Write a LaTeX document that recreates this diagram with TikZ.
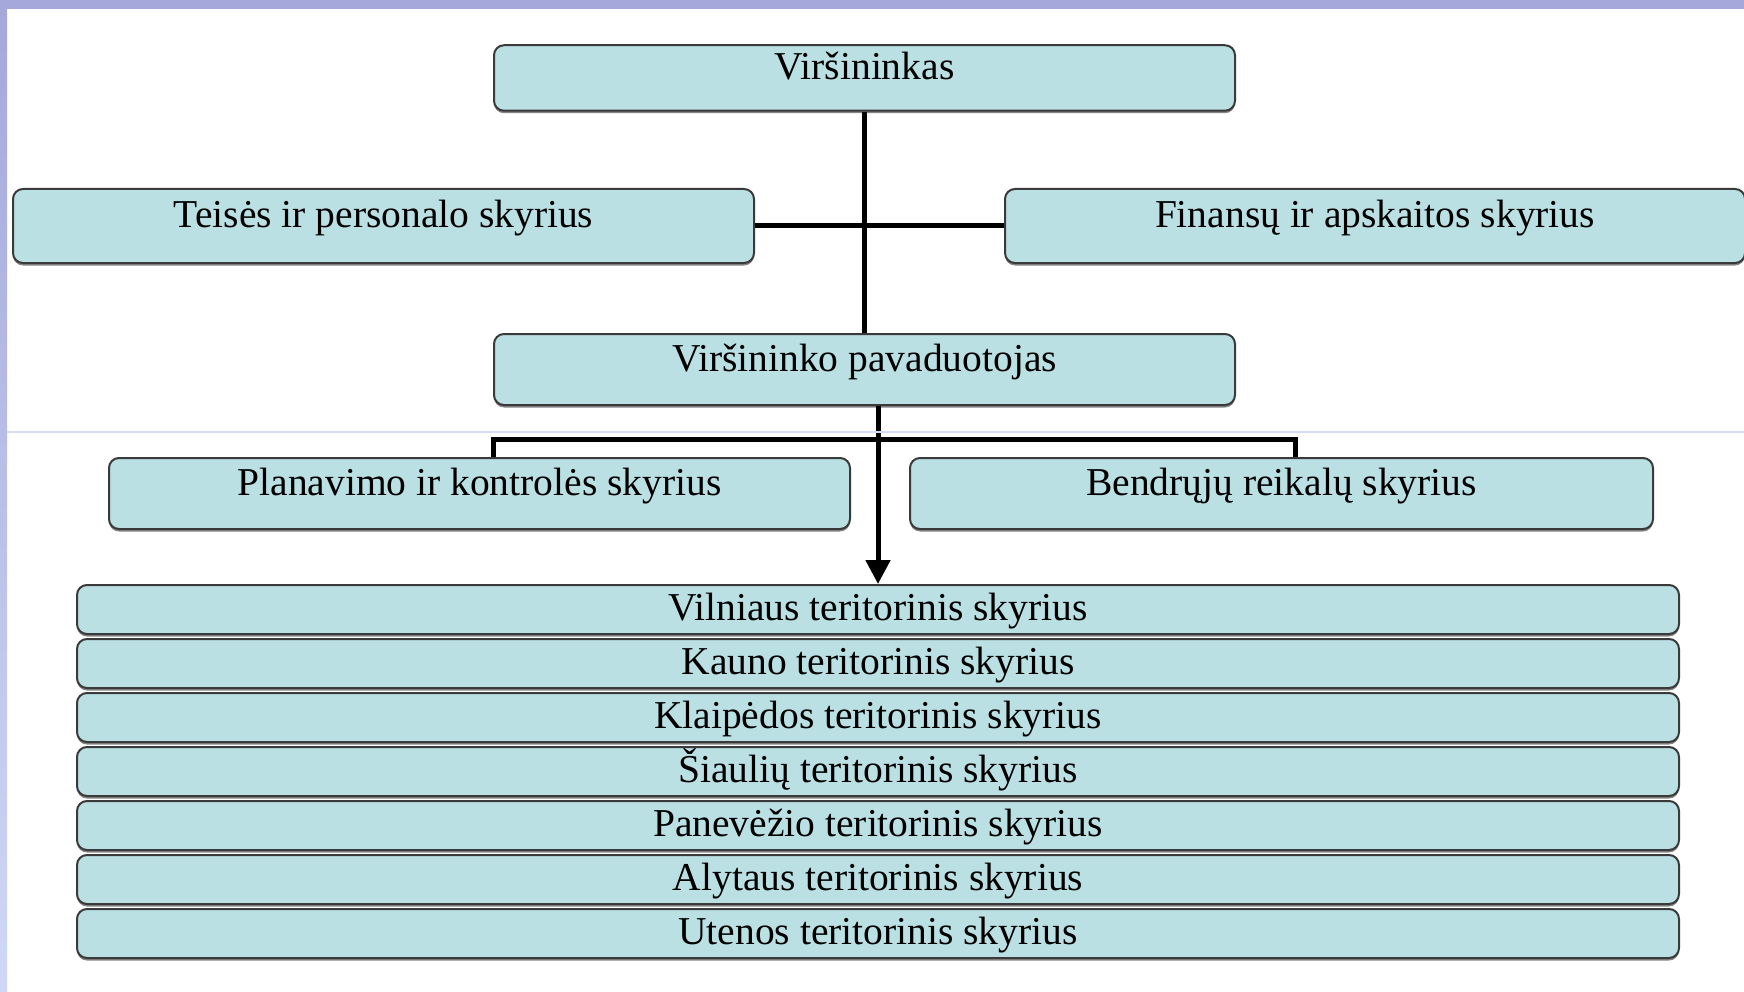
\documentclass[tikz,border=0pt]{standalone}
\usepackage{fontspec}
\setmainfont{Liberation Serif}
\usetikzlibrary{arrows.meta,shadows}
\definecolor{boxfill}{RGB}{186,224,227}
\definecolor{boxline}{RGB}{58,58,58}
\definecolor{bandtop}{RGB}{164,168,218}
\definecolor{bandbot}{RGB}{206,216,246}
\definecolor{faint}{RGB}{214,220,244}
\definecolor{shadowgray}{RGB}{120,120,120}
\begin{document}
\begin{tikzpicture}[x=1pt,y=-1pt,
  box/.style={draw=boxline, line width=2pt, fill=boxfill, rounded corners=10pt,
    drop shadow={shadow xshift=0pt, shadow yshift=-2.5pt, fill=shadowgray, opacity=0.9},
    inner sep=0pt, font=\fontsize{39.5}{47}\selectfont},
  upper/.style={text height=28pt, text depth=24pt},
  rowtext/.style={text height=28pt, text depth=7pt},
  conn/.style={line width=5pt, black, line join=miter}]
\useasboundingbox (0,0) rectangle (1744,992);
\fill[white] (0,0) rectangle (1744,992);
\shade[top color=bandtop, bottom color=bandbot] (0,0) rectangle (7,992);
\fill[bandtop] (0,0) rectangle (1744,9);

% top level
\node[box, upper, minimum width=741pt, minimum height=65.5pt] (vir) at (864.5,78) {Viršininkas};
\node[box, upper, minimum width=741pt, minimum height=74pt] (teis) at (383.5,226) {Teisės ir personalo skyrius};
\node[box, upper, minimum width=740pt, minimum height=74pt] (fin) at (1375,226) {Finansų ir apskaitos skyrius};
\node[box, upper, minimum width=741pt, minimum height=71pt] (pav) at (864.5,369.5) {Viršininko pavaduotojas};
\node[box, upper, minimum width=741pt, minimum height=71pt] (plan) at (479.5,493.5) {Planavimo ir kontrolės skyrius};
\node[box, upper, minimum width=743pt, minimum height=71pt] (bend) at (1281.5,493.5) {Bendrųjų reikalų skyrius};

% territorial rows
\foreach \nm/\txt [count=\i from 0] in {vil/Vilniaus teritorinis skyrius,
    kau/Kauno teritorinis skyrius, kla/Klaipėdos teritorinis skyrius,
    sia/Šiaulių teritorinis skyrius, pan/Panevėžio teritorinis skyrius,
    aly/Alytaus teritorinis skyrius, ute/Utenos teritorinis skyrius}
  \node[box, rowtext, minimum width=1602pt, minimum height=49pt] (\nm) at (878,{609.5+54*\i}) {\txt};

% connectors
\draw[conn] (vir.south) -- (pav.north);
\draw[conn] (teis.east) -- (fin.west);
\coordinate (axis) at (878,0);
\coordinate (cL) at (493,439);
\coordinate (cR) at (1295,439);
\draw[conn] (plan.north -| cL) -- (cL) -- (cR) -- (bend.north -| cR);
\draw[conn, -{Triangle[length=24pt,width=24pt]}] (pav.south -| axis) -- (vil.north -| axis);

\draw[faint, line width=1.5pt] (7,432) -- (1744,432);
\end{tikzpicture}
\end{document}
